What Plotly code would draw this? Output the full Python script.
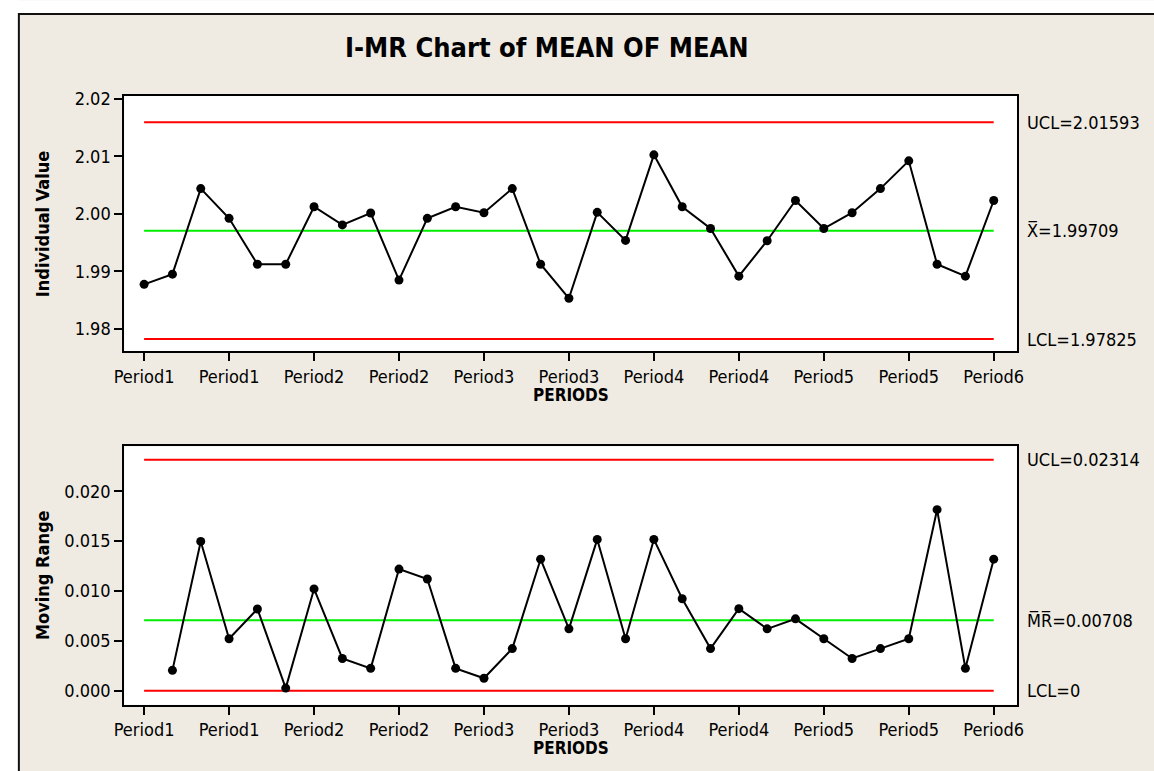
import plotly.graph_objects as go

# ---------------- data ----------------
obs = list(range(1, 32))
individual = [1.98776, 1.98953, 2.00441, 1.99924, 1.99126, 1.99126, 2.00126, 1.99810,
              2.00017, 1.98850, 1.99924, 2.00126, 2.00022, 2.00441, 1.99126, 1.98534,
              2.00028, 1.99540, 2.01028, 2.00126, 1.99747, 1.98919, 1.99534, 2.00234,
              1.99747, 2.00022, 2.00441, 2.00924, 1.99126, 1.98919, 2.00234]
mr_obs = list(range(2, 32))
moving_range = [0.00205, 0.01497, 0.00522, 0.00820, 0.00027, 0.01021, 0.00324, 0.00225,
                0.01220, 0.01120, 0.00225, 0.00126, 0.00423, 0.01319, 0.00621, 0.01517,
                0.00522, 0.01517, 0.00922, 0.00423, 0.00823, 0.00621, 0.00721, 0.00522,
                0.00324, 0.00423, 0.00522, 0.01815, 0.00225, 0.01319]
i_ucl, i_cl, i_lcl = 2.01593, 1.99709, 1.97825
mr_ucl, mr_cl, mr_lcl = 0.02314, 0.00708, 0.0
tick_pos = [1, 4, 7, 10, 13, 16, 19, 22, 25, 28, 31]
tick_text = ["Period1", "Period1", "Period2", "Period2", "Period3", "Period3",
             "Period4", "Period4", "Period5", "Period5", "Period6"]
i_yticks = [1.98, 1.99, 2.00, 2.01, 2.02]
mr_yticks = [0.0, 0.005, 0.010, 0.015, 0.020]

# ---------------- layout helpers ----------------
W, H = 1154, 771
FONT = "Tahoma, 'DejaVu Sans Condensed', 'DejaVu Sans', sans-serif"
BEIGE = "#EFEBE2"

def px(x):
    return x / W

def py(y):
    return 1 - y / H

fig = go.Figure()

def add_panel(xa, ya, xs, ys, ucl, cl, lcl):
    x_ends = [obs[0], obs[-1]]
    for val, col in [(ucl, "#FF0000"), (cl, "#00EE00"), (lcl, "#FF0000")]:
        fig.add_trace(go.Scatter(x=x_ends, y=[val, val], mode="lines",
                                 line=dict(color=col, width=2),
                                 xaxis=xa, yaxis=ya, hoverinfo="skip", showlegend=False))
    fig.add_trace(go.Scatter(x=xs, y=ys, mode="lines+markers",
                             line=dict(color="black", width=2),
                             marker=dict(color="black", size=9),
                             xaxis=xa, yaxis=ya, showlegend=False))

add_panel("x", "y", obs, individual, i_ucl, i_cl, i_lcl)
add_panel("x2", "y2", mr_obs, moving_range, mr_ucl, mr_cl, mr_lcl)

axis_common = dict(showline=True, linewidth=2, linecolor="black", mirror=True,
                   showgrid=False, zeroline=False, ticks="outside", ticklen=8,
                   tickwidth=2, tickcolor="black",
                   tickfont=dict(family=FONT, size=18, color="black"))

xdom = [px(116), px(1022)]
fig.update_layout(
    width=W, height=H,
    margin=dict(l=0, r=0, t=0, b=0),
    paper_bgcolor=BEIGE, plot_bgcolor="white",
    font=dict(family=FONT, size=18, color="black"),
    xaxis=dict(domain=xdom, range=[0.30, 31.82], tickvals=tick_pos, ticktext=tick_text,
               anchor="y", **axis_common),
    yaxis=dict(domain=[py(347), py(89)], range=[1.9761, 2.0205], tickvals=i_yticks,
               tickformat=".2f", anchor="x", **axis_common),
    xaxis2=dict(domain=xdom, range=[0.30, 31.82], tickvals=tick_pos, ticktext=tick_text,
                anchor="y2", **axis_common),
    yaxis2=dict(domain=[py(704), py(443)], range=[-0.00139, 0.02449], tickvals=mr_yticks,
                tickformat=".3f", anchor="x2", **axis_common),
)

# background frame: white strips at top/left, border line
fig.add_shape(type="rect", xref="paper", yref="paper", x0=-0.01, x1=1.01,
              y0=py(6), y1=1.01, fillcolor="white", line=dict(width=0), layer="below")
fig.add_shape(type="rect", xref="paper", yref="paper", x0=-0.01, x1=px(9),
              y0=-0.01, y1=1.01, fillcolor="white", line=dict(width=0), layer="below")
fig.add_shape(type="rect", xref="paper", yref="paper", x0=px(9), x1=1.05,
              y0=-0.05, y1=py(6), line=dict(color="#111111", width=2), layer="above")

ann = []
ann.append(dict(text="<b>I-MR Chart of MEAN OF MEAN</b>", x=px(545), y=py(39.5),
                xref="paper", yref="paper", showarrow=False, xanchor="center",
                yanchor="middle", font=dict(family=FONT, size=27, color="black")))
for label, yc in [("Individual Value", (89 + 347) / 2), ("Moving Range", (443 + 704) / 2)]:
    ann.append(dict(text="<b>" + label + "</b>", x=px(33), y=py(yc), xref="paper",
                    yref="paper", showarrow=False, textangle=-90, xanchor="center",
                    yanchor="middle", font=dict(family=FONT, size=18, color="black")))
for yc in [391, 748]:
    ann.append(dict(text="<b>PERIODS</b>", x=px(569), y=py(yc), xref="paper", yref="paper",
                    showarrow=False, xanchor="center", yanchor="middle",
                    font=dict(family=FONT, size=17, color="black")))
right_labels = [
    ("y", i_ucl, "UCL=%.5f" % i_ucl),
    ("y", i_cl, "X\u0305=%.5f" % i_cl),
    ("y", i_lcl, "LCL=%.5f" % i_lcl),
    ("y2", mr_ucl, "UCL=%.5f" % mr_ucl),
    ("y2", mr_cl, "M\u0305R\u0305=%.5f" % mr_cl),
    ("y2", mr_lcl, "LCL=0"),
]
for yref, val, txt in right_labels:
    ann.append(dict(text=txt, x=px(1030), y=val, xref="paper", yref=yref,
                    showarrow=False, xanchor="left", yanchor="middle",
                    font=dict(family=FONT, size=18, color="black")))
fig.update_layout(annotations=ann)

fig.write_html(
    "out.html",
    config={"displayModeBar": False},
    post_script=("document.body.style.margin='0';"
                 "document.body.style.overflow='hidden';"
                 "document.documentElement.style.overflow='hidden';"),
)
